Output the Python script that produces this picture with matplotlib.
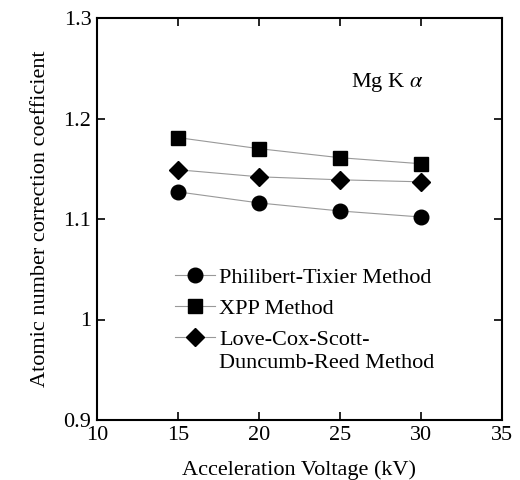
import matplotlib.pyplot as plt

plt.rcParams.update(
    {
        "font.family": "serif",
        "font.serif": ["Liberation Serif", "DejaVu Serif"],
        "mathtext.fontset": "stix",
        "font.size": 16,
    }
)

voltage = [15, 20, 25, 30]
philibert = [1.127, 1.116, 1.108, 1.102]
xpp = [1.181, 1.170, 1.161, 1.155]
love_cox = [1.149, 1.142, 1.139, 1.137]
labels = ["Philibert-Tixier Method", "XPP Method", "Love-Cox-Scott-"]
label_tail = "Duncumb-Reed Method"

fig = plt.figure(figsize=(5.2, 4.8), dpi=100)
ax = fig.add_axes([0.1865, 0.125, 0.7785, 0.8375])

line_kw = dict(color="#999999", linewidth=0.8, markerfacecolor="black", markeredgecolor="black")
ax.plot(voltage, philibert, marker="o", markersize=10.5, label=labels[0], **line_kw)
ax.plot(voltage, xpp, marker="s", markersize=10.5, label=labels[1], **line_kw)
ax.plot(voltage, love_cox, marker="D", markersize=9.5, label=labels[2], **line_kw)

ax.set_xlim(10, 35)
ax.set_ylim(0.9, 1.3)
ax.set_xticks([10, 15, 20, 25, 30, 35])
ax.set_yticks([0.9, 1.0, 1.1, 1.2, 1.3])
ax.set_yticklabels(["0.9", "1", "1.1", "1.2", "1.3"])
ax.tick_params(direction="in", top=True, right=True, length=6, width=1.2, labelsize=16, pad=4)
for s in ax.spines.values():
    s.set_linewidth(1.5)

ax.set_xlabel("Acceleration Voltage (kV)", fontsize=16, labelpad=11)
ax.set_ylabel("Atomic number correction coefficient", fontsize=16, labelpad=10)

ax.text(0.716, 0.84, r"Mg K $\alpha$", transform=ax.transAxes, ha="center", va="center", fontsize=16)

leg = ax.legend(loc="upper left", bbox_to_anchor=(0.165, 0.408), frameon=False, fontsize=16,
                handlelength=1.8, handletextpad=0.2, labelspacing=0.47, borderpad=0)

# second line of the last label, set just under it
fig.canvas.draw()
bb = leg.get_texts()[-1].get_window_extent().transformed(ax.transAxes.inverted())
ax.text(bb.x0, bb.y0 - 0.012, label_tail, transform=ax.transAxes, ha="left", va="top", fontsize=16)

fig.savefig("out.png", dpi=100)
